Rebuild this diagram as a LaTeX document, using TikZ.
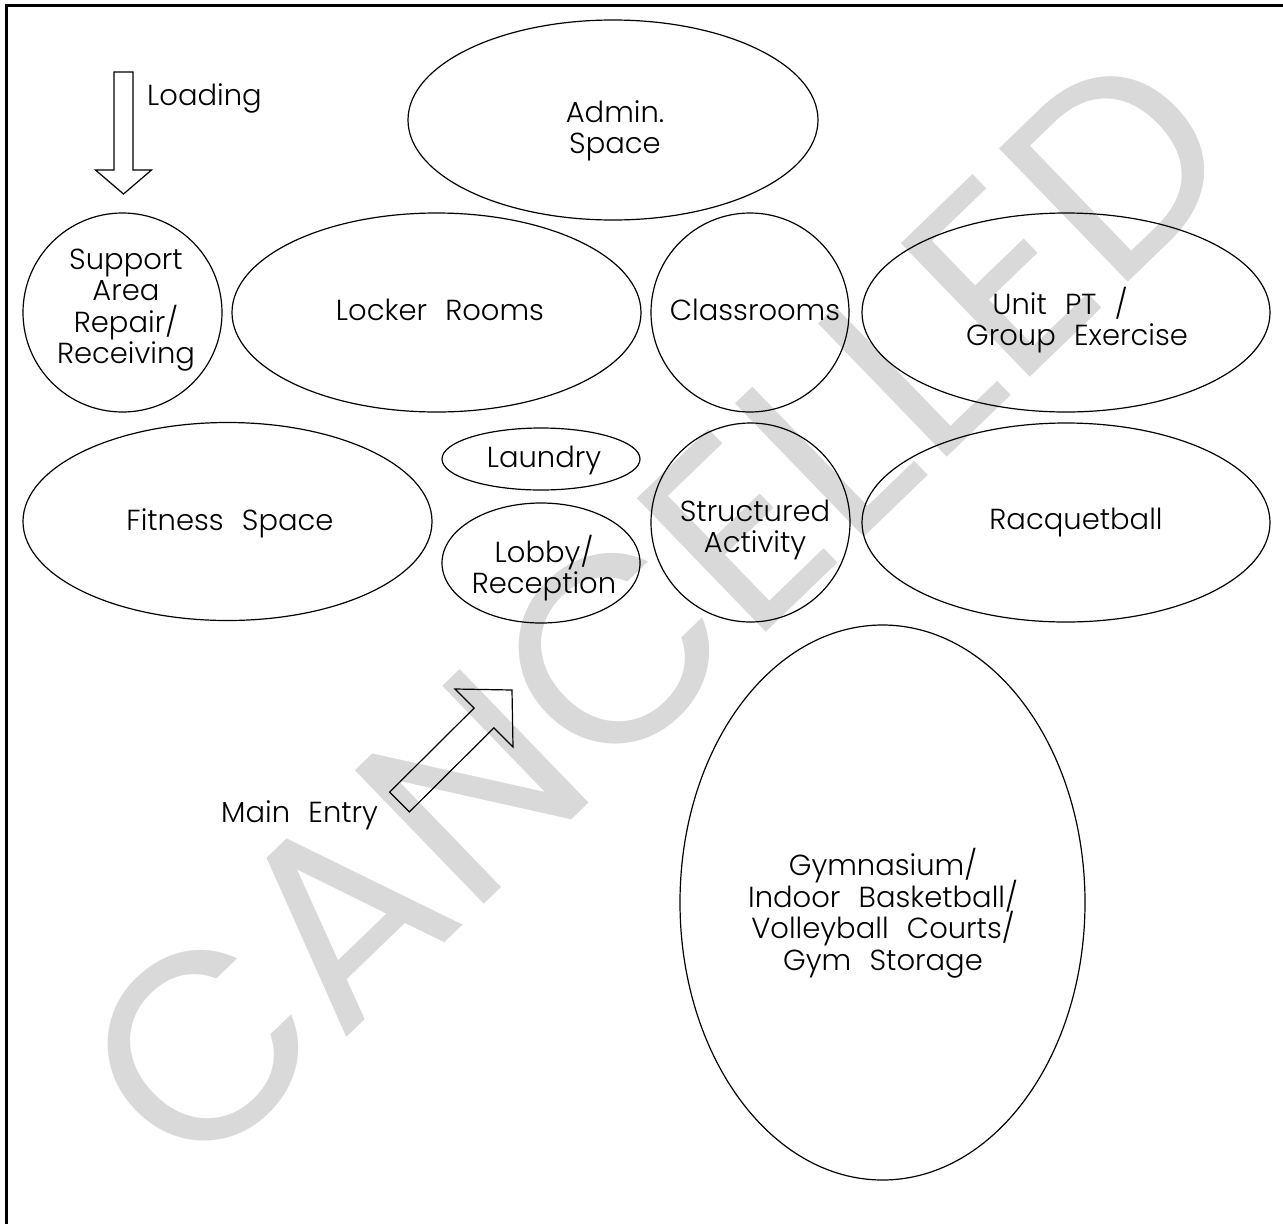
\documentclass[tikz,border=0pt]{standalone}
\usepackage{fontspec}
\usepackage{xcolor}
\newfontfamily\roomfont{Poppins Light}[WordSpace=2.3]
\newfontfamily\stampfont{Poppins}
\definecolor{stampgray}{RGB}{217,217,217}
\newcommand\tightlines{\lineskiplimit=-100pt\relax}

\begin{document}
\begin{tikzpicture}[x=1pt,y=-1pt,
		room/.style={draw, line width=1.2pt},
		lbl/.style={inner sep=0pt, align=center, font=\roomfont\fontsize{29}{31.5}\selectfont\tightlines},
		blockarrow/.style={draw, line width=1.2pt, line join=miter}]
		\useasboundingbox (0,0) rectangle (1283,1224);
		\node [rotate=44, inner sep=0pt, text=stampgray, font=\stampfont\fontsize{266}{266}\selectfont] (stamp) at (656,609) {CANCELLED};
		\draw [line width=3pt] (6.5,1224) -- (6.5,5) -- (1283,5); % frame, right and bottom edges fall outside
		% rooms
		\draw [room] (613,120) ellipse [x radius=205, y radius=100];
		\node [lbl] (admin) at (615,131) {Admin.\\Space};
		\draw [room] (122.5,312.5) circle (99.5);
		\node [lbl] (support) at (126,310) {Support\\Area\\Repair/\\Receiving};
		\draw [room] (436.5,312.5) ellipse [x radius=204.5, y radius=99.5];
		\node [lbl] (locker) at (440,310) {Locker Rooms};
		\draw [room] (750,312.5) ellipse [x radius=99, y radius=99.5];
		\node [lbl] (class) at (755,310) {Classrooms};
		\draw [room] (1066,312.5) ellipse [x radius=204, y radius=99.5];
		\node [lbl] (unitpt) at (1077,320) {Unit PT /\hspace*{34pt}\\Group Exercise};
		\draw [room] (227.5,521.5) ellipse [x radius=204.5, y radius=99];
		\node [lbl] (fitness) at (230,523) {Fitness Space};
		\draw [room] (541,459) ellipse [x radius=99, y radius=31];
		\node [lbl] (laundry) at (544,460) {Laundry};
		\draw [room] (541,563) ellipse [x radius=99, y radius=60];
		\node [lbl] (lobby) at (544,568) {Lobby/\\Reception};
		\draw [room] (750.5,522.5) circle (99.5);
		\node [lbl] (struct) at (755,530) {Structured\\Activity};
		\draw [room] (1066,522.5) ellipse [x radius=204, y radius=99.5];
		\node [lbl] (racquet) at (1076,523) {Racquetball};
		\draw [room] (882.5,902.5) ellipse [x radius=202.5, y radius=277.5];
		\node [lbl] (gym) at (883,913) {Gymnasium/\\Indoor Basketball/\\Volleyball Courts/\\Gym Storage};
		% loading and entry
		\draw [blockarrow] (114,72) -- (133,72) -- (133,170) -- (151.5,170) -- (123.5,194) -- (95.5,170) -- (114,170) -- cycle;
		\node [lbl, anchor=base west] (loading) at (147,105) {Loading};
		\draw [blockarrow] (389.6,792.1) -- (474.1,708.1) -- (455,689) -- (512,690) -- (513,747) -- (493.9,727.9) -- (409.4,811.9) -- cycle;
		\node [lbl, anchor=base west] (entry) at (221,822) {Main Entry};
\end{tikzpicture}
\end{document}
